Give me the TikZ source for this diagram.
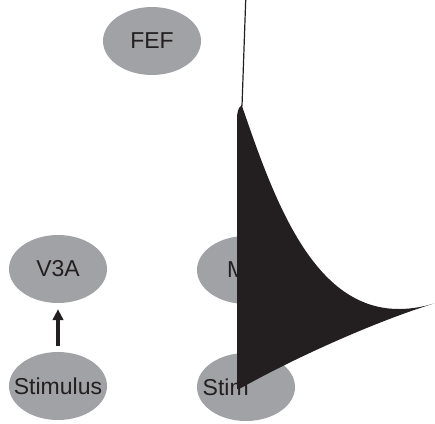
\documentclass[tikz,border=0pt]{standalone}
\usepackage{fontspec}
\setmainfont{Liberation Sans}
\usetikzlibrary{shapes.geometric,arrows.meta}
\definecolor{areagray}{RGB}{161,162,166}
\definecolor{inkdark}{RGB}{35,31,32}
\tikzset{
  area/.style={ellipse, fill=areagray, draw=none, minimum width=98pt, minimum height=68pt, inner sep=0pt,
    text=inkdark, font=\fontsize{23}{27}\selectfont},
  feed/.style={draw=inkdark, line width=3.4pt, -{Triangle[width=10.5pt,length=11pt]}, shorten <=6pt, shorten >=6pt},
  blot/.style={fill=inkdark, draw=none},
  wire/.style={draw=inkdark, line width=1.2pt}
}
\newcommand{\ctext}[1]{\makebox[0pt]{#1}}
\newcommand{\ltext}[2]{\makebox[0pt][l]{\hspace*{#1}#2}}
\begin{document}
\begin{tikzpicture}[x=1pt,y=-1pt]
\useasboundingbox (0,0) rectangle (435,423);
\node[area] (fef) at (152,41) {\ctext{FEF}};
\node[area] (v3a) at (58,269) {\ctext{V3A}};
\node[area] (stimA) at (58,386) {\ctext{Stimulus}};
\node[area] (mt) at (246,270) {\ltext{-19pt}{M}};
\node[area] (stimB) at (246,387) {\ltext{-43.3pt}{Stim}};
\draw[feed] (stimA) -- (v3a);
\coordinate (wtop) at (245.7,0);
\coordinate (wbot) at (242,106);
\draw[wire] (wtop) -- (wbot);
\path[blot] (241.7,105) .. controls (238,108) and (237,112) .. (237,120)
  -- (237,389) -- (241,388)
  .. controls (300,355) and (380,320) .. (434,303.5)
  .. controls (324,336.5) and (279.1,215) .. (241.7,105) -- cycle;
\end{tikzpicture}
\end{document}
